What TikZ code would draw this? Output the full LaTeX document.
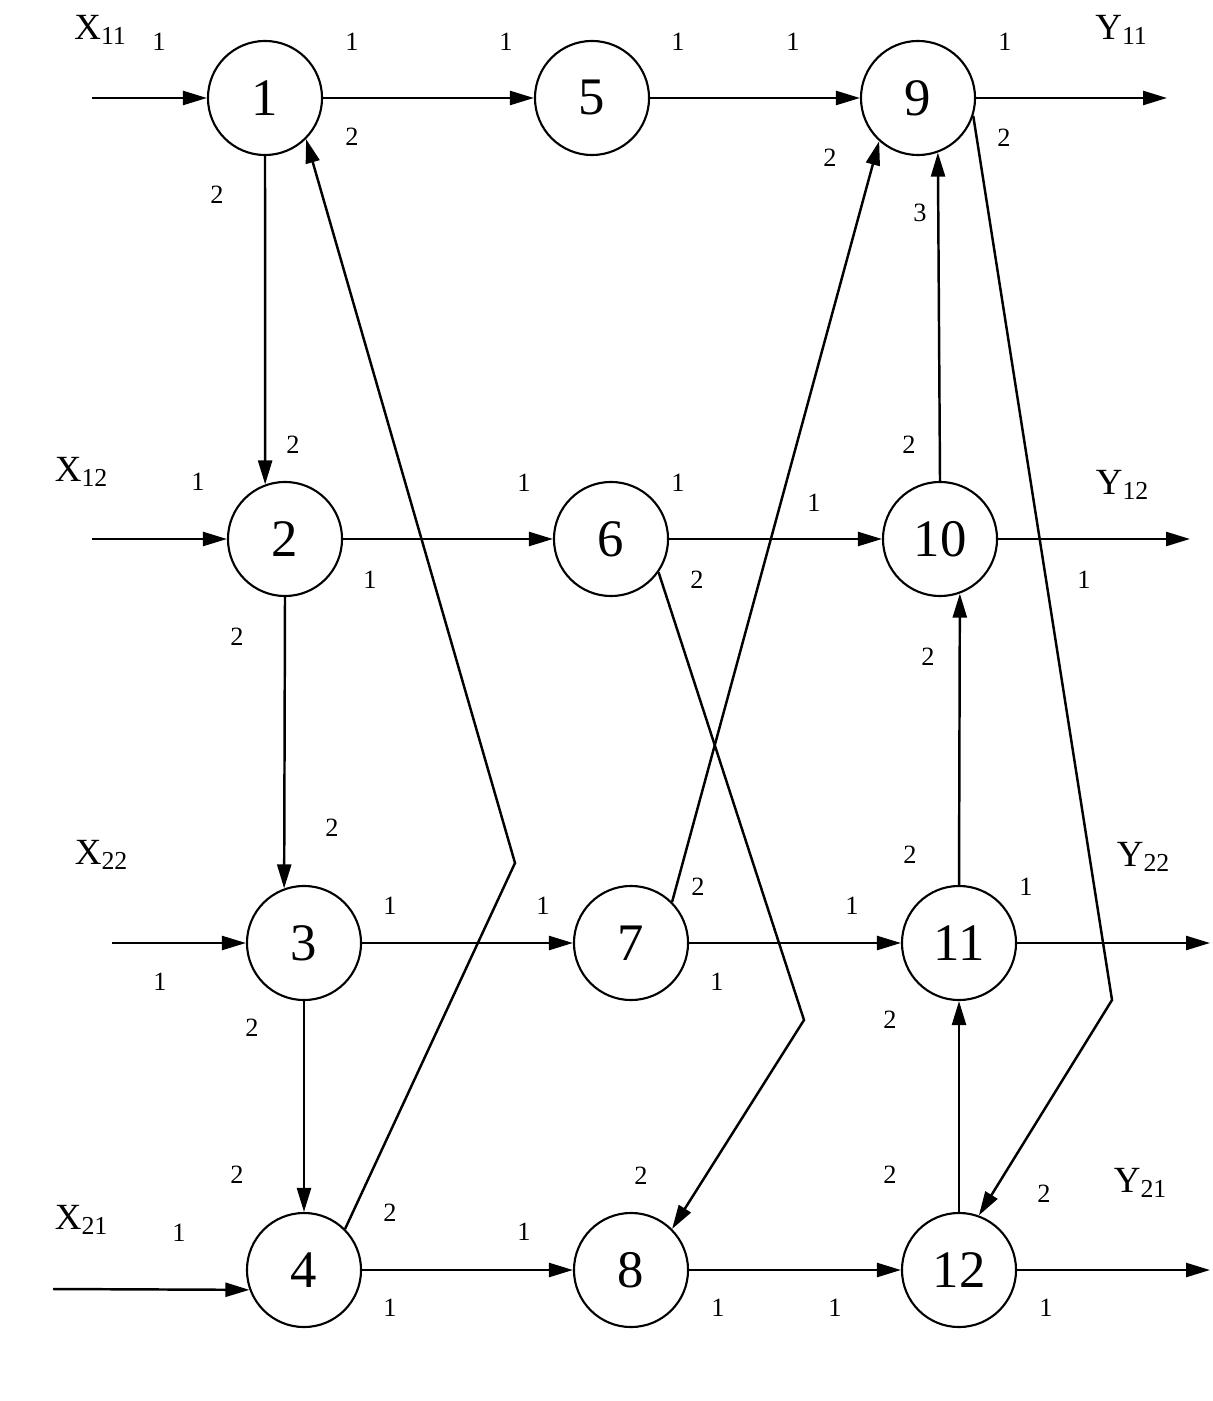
\documentclass[tikz,border=0pt]{standalone}
\usepackage{fontspec}
\setmainfont{Liberation Serif}
\usetikzlibrary{arrows.meta}
\tikzset{
	vertex/.style={circle, draw=black, line width=0.6pt, minimum size=1.14cm, inner sep=0pt, font=\fontsize{15}{17}\selectfont},
	port/.style={font=\fontsize{7.5}{9}\selectfont, inner sep=0pt},
	io/.style={font=\fontsize{10.5}{12}\selectfont, inner sep=0pt},
	link/.style={-{Triangle[length=2.4mm, width=1.4mm]}, line width=0.7pt},
	wire/.style={line width=0.7pt},
}
\begin{document}
\begin{tikzpicture}[x=0.01cm, y=-0.01cm]
	\useasboundingbox (0,0) rectangle (1213,1401);
	% vertices
	\node[vertex] (n1) at (265,98) {1};
	\node[vertex] (n2) at (285,539) {2};
	\node[vertex] (n3) at (304,943) {3};
	\node[vertex] (n4) at (304,1270) {4};
	\node[vertex] (n5) at (592,98) {5};
	\node[vertex] (n6) at (611,539) {6};
	\node[vertex] (n7) at (631,943) {7};
	\node[vertex] (n8) at (631,1270) {8};
	\node[vertex] (n9) at (918,98) {9};
	\node[vertex] (n10) at (940,539) {10};
	\node[vertex] (n11) at (959,943) {11};
	\node[vertex] (n12) at (959,1270) {12};
	% free ends of inputs, outputs and bends
	\coordinate (in11) at (92,98);
	\coordinate (in12) at (92,539);
	\coordinate (in22) at (112,943);
	\coordinate (in21) at (53,1289);
	\coordinate (out11) at (1167,98);
	\coordinate (out12) at (1190,539);
	\coordinate (out22) at (1210,943);
	\coordinate (out21) at (1210,1270);
	\coordinate (bend1) at (515,863);
	\coordinate (bend2) at (804,1020);
	\coordinate (bend3) at (1112,1000);
	% inputs
	\draw[link] (in11) -- (n1);
	\draw[link] (in12) -- (n2);
	\draw[link] (in22) -- (n3);
	\draw[link] (in21) -- (n4.200);
	% rows
	\draw[link] (n1) -- (n5);
	\draw[link] (n5) -- (n9);
	\draw[link] (n2) -- (n6);
	\draw[link] (n6) -- (n10);
	\draw[link] (n3) -- (n7);
	\draw[link] (n7) -- (n11);
	\draw[link] (n4) -- (n8);
	\draw[link] (n8) -- (n12);
	% outputs
	\draw[link] (n9) -- (out11);
	\draw[link] (n10) -- (out12);
	\draw[link] (n11) -- (out22);
	\draw[link] (n12) -- (out21);
	% columns
	\draw[link] (n1.south) -- (n2.110);
	\draw[link] (n2.south) -- (n3.110);
	\draw[link] (n3.south) -- (n4.north);
	\draw[link] (n10.north) -- (n9.290);
	\draw[link] (n11.north) -- (n10.290);
	\draw[link] (n12.north) -- (n11.south);
	% cross links
	\draw[link] (n4.45) -- (bend1) -- (n1.-45);
	\draw[link] (n6.-35) -- (bend2) -- (n8.45);
	\draw[link] (n7.45) -- (n9.228);
	\draw[link] (n9.-18) -- (bend3) -- (n12.70);
	% port numbers
	\foreach \x/\y/\t in {159/42/1, 352/42/1, 506/42/1, 678/42/1, 793/42/1, 1005/42/1,
		352/137/2, 217/195/2, 830/158/2, 1004/138/2, 920/213/3,
		293/445/2, 198/482/1, 524/483/1, 678/483/1, 814/503/1, 909/445/2,
		370/580/1, 697/580/2, 1084/580/1, 237/637/2, 928/657/2,
		332/828/2, 390/906/1, 543/906/1, 698/887/2, 852/906/1, 910/855/2,
		1026/887/1, 160/982/1, 717/982/1, 252/1028/2, 890/1020/2,
		237/1175/2, 641/1176/2, 890/1175/2, 1044/1194/2, 179/1233/1,
		390/1213/2, 524/1232/1, 390/1308/1, 718/1308/1, 835/1308/1, 1046/1308/1}
		\node[port] (p\x-\y) at (\x,\y) {\t};
	% signal names
	\node[io] (lx11) at (101,30) {X\textsubscript{11}};
	\node[io] (lx12) at (82,472) {X\textsubscript{12}};
	\node[io] (lx22) at (102,855) {X\textsubscript{22}};
	\node[io] (lx21) at (82,1220) {X\textsubscript{21}};
	\node[io] (ly11) at (1122,30) {Y\textsubscript{11}};
	\node[io] (ly12) at (1123,485) {Y\textsubscript{12}};
	\node[io] (ly22) at (1144,857) {Y\textsubscript{22}};
	\node[io] (ly21) at (1141,1183) {Y\textsubscript{21}};
\end{tikzpicture}
\end{document}
